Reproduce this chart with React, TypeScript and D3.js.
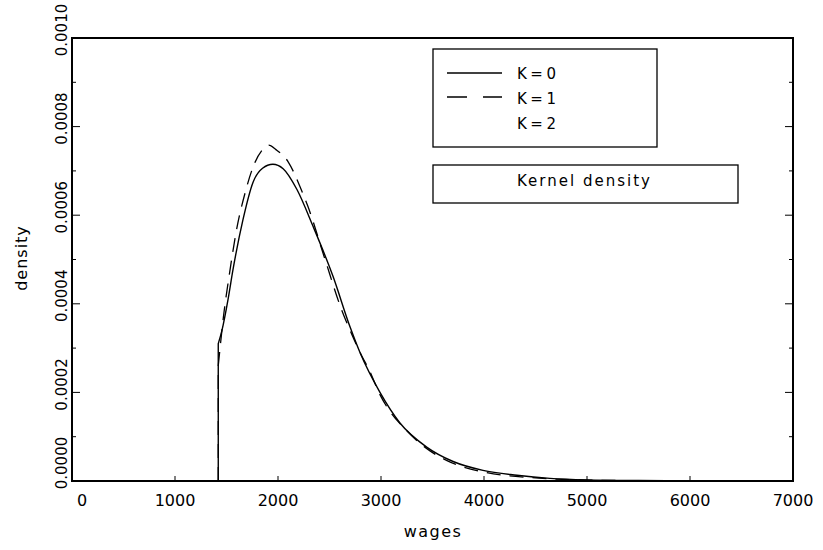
import React from "react";
import * as d3 from "d3";

const wagesK0 = [1420, 1456, 1515, 1563, 1660, 1757, 1850, 1950, 2050, 2184, 2340, 2534, 2699, 2796, 2990, 3184, 3447, 3700, 3990, 4320, 4640, 5000, 5500, 6000, 6500];
const densityK0 = [0.00031, 0.00034, 0.00041, 0.000477, 0.00059, 0.000674, 0.000706, 0.000715, 0.000705, 0.000658, 0.000575, 0.000462, 0.000348, 0.00029, 0.0002, 0.000131, 0.000076, 0.000044, 0.000024, 0.000013, 0.000006, 0.0000025, 0.000001, 0.0000005, 0];

const wagesK1 = [1420, 1470, 1530, 1600, 1680, 1760, 1850, 1910, 1980, 2100, 2230, 2290, 2450, 2620, 2700, 2816, 2874, 2990, 3282, 3476, 3641, 4000, 4500, 5000, 6000];
const densityK1 = [0.00026, 0.00037, 0.00047, 0.00057, 0.00065, 0.00071, 0.000748, 0.000758, 0.000748, 0.00072, 0.000655, 0.00062, 0.000505, 0.000385, 0.00034, 0.000281, 0.000256, 0.000195, 0.000106, 0.000068, 0.000046, 0.00002, 0.000007, 0.000002, 0];

const xTicks = [0, 1000, 2000, 3000, 4000, 5000, 6000, 7000];
const yTicks = [0, 0.0002, 0.0004, 0.0006, 0.0008, 0.001];
const yMinorTicks = [0.0001, 0.0003, 0.0005, 0.0007, 0.0009];
const legendLabels = ["K=0", "K=1", "K=2"];

const FONT = "'DejaVu Sans', sans-serif";

export default function App() {
  const left = 72, right = 793, top = 38, bottom = 481;
  const x = d3.scaleLinear().domain([0, 7000]).range([left, right]);
  const y = d3.scaleLinear().domain([0, 0.001]).range([bottom, top]);

  const line = d3
    .line<[number, number]>()
    .x((d) => x(d[0]))
    .y((d) => y(d[1]))
    .curve(d3.curveMonotoneX);

  const pts0: [number, number][] = wagesK0.map((w, i) => [w, densityK0[i]]);
  const pts1: [number, number][] = wagesK1.map((w, i) => [w, densityK1[i]]);
  const path0 = `M${x(wagesK0[0])},${y(0)}L` + (line(pts0) || "").slice(1);
  const path1 = `M${x(wagesK1[0])},${y(0)}L` + (line(pts1) || "").slice(1);

  return (
    <svg width={823} height={550} style={{ display: "block", position: "absolute", left: 0, top: 0, background: "#fff" }}>
      <rect x={0} y={0} width={823} height={550} fill="#fff" />
      {/* curves */}
      <path d={path0} fill="none" stroke="#000" strokeWidth={1.4} />
      <path d={path1} fill="none" stroke="#000" strokeWidth={1.3} strokeDasharray="14,9" />

      {/* frame */}
      <rect x={left} y={top} width={right - left} height={bottom - top} fill="none" stroke="#000" strokeWidth={2} />

      {/* x ticks */}
      {xTicks.map((t) => (
        <g key={"x" + t}>
          <line x1={x(t)} x2={x(t)} y1={bottom} y2={bottom - 5} stroke="#000" strokeWidth={1} />
          <text
            x={t === 0 ? x(t) + 10 : x(t)}
            y={506}
            textAnchor="middle"
            fontFamily={FONT}
            fontSize={16}
            fill="#000"
          >
            {t}
          </text>
        </g>
      ))}

      {/* y ticks */}
      {yTicks.map((t) => (
        <g key={"y" + t}>
          <line x1={left} x2={left + 8} y1={y(t)} y2={y(t)} stroke="#000" strokeWidth={1} />
          <line x1={right} x2={right - 8} y1={y(t)} y2={y(t)} stroke="#000" strokeWidth={1} />
          <text
            transform={`translate(67,${t === 0 ? y(t) - 18 : y(t) - 8}) rotate(-90)`}
            textAnchor="middle"
            fontFamily={FONT}
            fontSize={15}
            fill="#000"
          >
            {t.toFixed(4)}
          </text>
        </g>
      ))}
      {yMinorTicks.map((t) => (
        <g key={"ym" + t}>
          <line x1={left} x2={left + 4} y1={y(t)} y2={y(t)} stroke="#000" strokeWidth={1} />
          <line x1={right} x2={right - 4} y1={y(t)} y2={y(t)} stroke="#000" strokeWidth={1} />
        </g>
      ))}

      {/* axis titles */}
      <text x={433} y={537} textAnchor="middle" fontFamily={FONT} fontSize={16} letterSpacing={1.5} fill="#000">
        wages
      </text>
      <text transform="translate(27,258) rotate(-90)" textAnchor="middle" fontFamily={FONT} fontSize={16} letterSpacing={1} fill="#000">
        density
      </text>

      {/* legend */}
      <rect x={433} y={49} width={224} height={98} fill="#fff" stroke="#000" strokeWidth={1.3} />
      <line x1={447} x2={502} y1={73} y2={73} stroke="#000" strokeWidth={1.3} />
      <line x1={447} x2={502} y1={97} y2={97} stroke="#000" strokeWidth={1.3} strokeDasharray="20,16" />
      {legendLabels.map((l, i) => (
        <text key={l} x={517} y={79 + i * 25} fontFamily={FONT} fontSize={15} letterSpacing={3.5} fill="#000">
          {l}
        </text>
      ))}

      <rect x={433} y={165} width={305} height={38} fill="#fff" stroke="#000" strokeWidth={1.3} />
      <text x={517} y={186} fontFamily={FONT} fontSize={15} letterSpacing={2} fill="#000">
        Kernel density
      </text>
    </svg>
  );
}
